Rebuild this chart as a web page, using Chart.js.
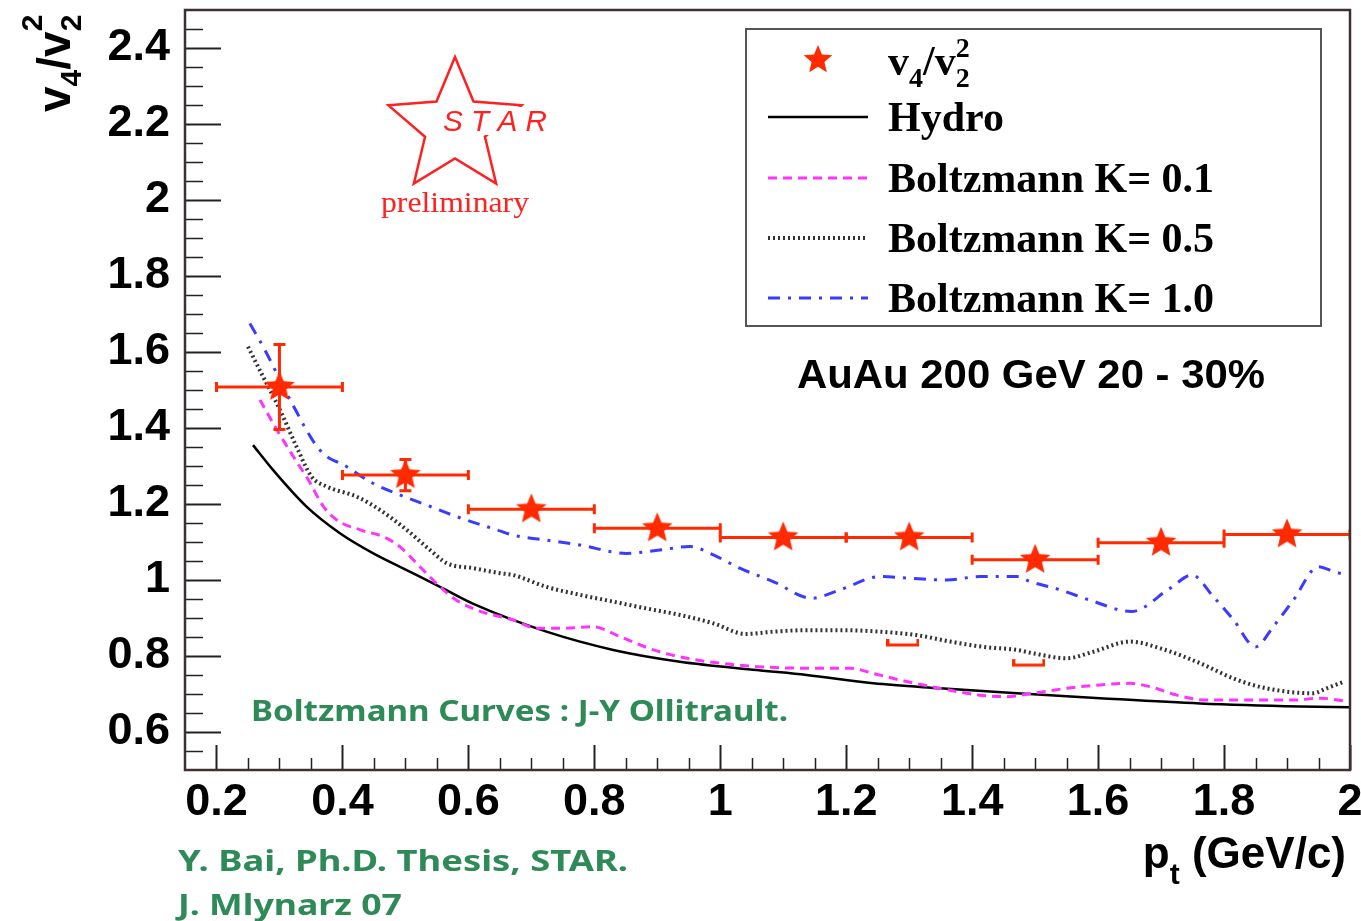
<!DOCTYPE html>
<html>
<head>
<meta charset="utf-8">
<script src="https://cdn.jsdelivr.net/npm/chart.js@4.4.1/dist/chart.umd.min.js"></script>
<style>
  html, body { margin: 0; padding: 0; background: #fff; }
  #wrap { width: 1361px; height: 921px; }
</style>
</head>
<body>
<div id="wrap"><canvas id="myChart" width="1361" height="921"></canvas></div>
<script>
// measured v4/v2^2 points, bins of 0.2 GeV/c
const ptCenters = [0.3, 0.5, 0.7, 0.9, 1.1, 1.3, 1.5, 1.7, 1.9];
const ptHalfWidth = [0.1, 0.1, 0.1, 0.1, 0.1, 0.1, 0.1, 0.1, 0.1];
const ratio = [1.508, 1.276, 1.186, 1.136, 1.112, 1.112, 1.053, 1.098, 1.120];
const ratioErr = [0.112, 0.041, 0.01, 0.01, 0.01, 0.01, 0.01, 0.01, 0.01];

// lower edges of the systematic brackets
const sysX = [1.29, 1.49];
const sysLow = [0.829, 0.776];

// Hydro
const hydroX = [0.258, 0.29, 0.343, 0.396, 0.449, 0.502, 0.555, 0.608, 0.724, 0.83, 0.936, 1.058, 1.137, 1.243, 1.349, 1.471, 1.603, 1.762, 1.921, 2.0];
const hydroY = [1.355, 1.289, 1.193, 1.123, 1.07, 1.026, 0.982, 0.937, 0.864, 0.816, 0.785, 0.763, 0.75, 0.728, 0.715, 0.702, 0.689, 0.675, 0.667, 0.665];

// Boltzmann K = 0.1
const k01X = [0.269, 0.296, 0.322, 0.346, 0.37, 0.391, 0.428, 0.465, 0.491, 0.523, 0.555, 0.581, 0.618, 0.671, 0.709, 0.751, 0.798, 0.841, 0.894, 0.947, 1.0, 1.058, 1.137, 1.206, 1.243, 1.285, 1.349, 1.412, 1.455, 1.497, 1.55, 1.603, 1.651, 1.683, 1.725, 1.772, 1.842, 1.91, 1.953, 1.997];
const k01Y = [1.474, 1.395, 1.325, 1.263, 1.193, 1.158, 1.132, 1.114, 1.088, 1.035, 0.982, 0.947, 0.918, 0.895, 0.873, 0.873, 0.877, 0.851, 0.816, 0.794, 0.781, 0.772, 0.768, 0.768, 0.754, 0.737, 0.715, 0.697, 0.693, 0.702, 0.715, 0.724, 0.728, 0.719, 0.697, 0.684, 0.684, 0.684, 0.689, 0.68];

// Boltzmann K = 0.5
const k05X = [0.25, 0.274, 0.301, 0.327, 0.351, 0.375, 0.423, 0.46, 0.502, 0.539, 0.566, 0.608, 0.65, 0.671, 0.724, 0.777, 0.83, 0.883, 0.936, 0.989, 1.04, 1.084, 1.137, 1.19, 1.254, 1.312, 1.365, 1.418, 1.471, 1.497, 1.55, 1.592, 1.651, 1.699, 1.762, 1.815, 1.867, 1.941, 1.963, 1.99];
const k05Y = [1.614, 1.535, 1.447, 1.351, 1.272, 1.246, 1.219, 1.184, 1.132, 1.079, 1.044, 1.031, 1.018, 1.013, 0.982, 0.961, 0.943, 0.925, 0.908, 0.886, 0.858, 0.864, 0.868, 0.868, 0.864, 0.855, 0.838, 0.824, 0.816, 0.807, 0.794, 0.811, 0.838, 0.82, 0.781, 0.741, 0.715, 0.702, 0.715, 0.732];

// Boltzmann K = 1.0
const k10X = [0.253, 0.277, 0.317, 0.364, 0.407, 0.449, 0.491, 0.534, 0.581, 0.645, 0.671, 0.724, 0.777, 0.851, 0.904, 0.952, 0.989, 1.031, 1.084, 1.145, 1.19, 1.254, 1.307, 1.36, 1.412, 1.471, 1.492, 1.54, 1.587, 1.653, 1.714, 1.749, 1.783, 1.815, 1.85, 1.878, 1.91, 1.95, 1.974, 1.997];
const k10Y = [1.675, 1.605, 1.474, 1.342, 1.298, 1.254, 1.224, 1.197, 1.167, 1.132, 1.118, 1.105, 1.092, 1.07, 1.079, 1.088, 1.066, 1.031, 0.996, 0.952, 0.974, 1.009, 1.004, 1.0, 1.009, 1.009, 0.996, 0.974, 0.947, 0.917, 0.978, 1.013, 0.956, 0.895, 0.824, 0.877, 0.947, 1.035, 1.022, 1.013];

const xTicks = [0.2, 0.4, 0.6, 0.8, 1.0, 1.2, 1.4, 1.6, 1.8, 2.0];
const yTicks = [0.6, 0.8, 1.0, 1.2, 1.4, 1.6, 1.8, 2.0, 2.2, 2.4];

const starRed = '#ff2a00';
const green = '#2e8b57';
const tickFont = { family: 'Liberation Sans', weight: 'bold', size: 45 };

const toXY = (xs, ys) => xs.map((x, i) => ({ x: x, y: ys[i] }));
const fmt = v => parseFloat(v.toFixed(2)).toString();

function starPath(g, cx, cy, R) {
    const r = R * 0.45;
    g.beginPath();
    for (let i = 0; i < 10; i++) {
        const rad = i % 2 == 0 ? R : r;
        const a = -Math.PI / 2 + i * Math.PI / 5;
        g.lineTo(cx + rad * Math.cos(a), cy + rad * Math.sin(a));
    }
    g.closePath();
}

function makeStar(R, color) {
    const c = document.createElement('canvas');
    c.width = c.height = Math.ceil(2 * R + 2);
    const g = c.getContext('2d');
    starPath(g, c.width / 2, c.height / 2, R);
    g.fillStyle = color;
    g.fill();
    return c;
}

function makeBracket(w, h, color) {
    const c = document.createElement('canvas');
    c.width = w; c.height = h * 2;
    const g = c.getContext('2d');
    g.strokeStyle = color;
    g.lineWidth = 3;
    g.beginPath();
    g.moveTo(1.5, 2); g.lineTo(1.5, h); g.lineTo(w - 1.5, h); g.lineTo(w - 1.5, 2);
    g.stroke();
    return c;
}

const starImg = makeStar(16, starRed);
const bracketImg = makeBracket(33, 8, starRed);

// text squeezed / stretched to a given width
function fitText(ctx, text, x, y, font, width, align) {
    ctx.font = font;
    const w = ctx.measureText(text).width;
    ctx.save();
    ctx.translate(align == 'right' ? x - width : x, y);
    ctx.scale(width / w, 1);
    ctx.textAlign = 'left';
    ctx.fillText(text, 0, 0);
    ctx.restore();
}

const errorBars = {
    id: 'errorBars',
    beforeDatasetDraw(chart, args) {
        if (args.index !== 0) return;
        const xs = chart.scales.x, ys = chart.scales.y, ctx = chart.ctx;
        const a = chart.chartArea;
        ctx.save();
        ctx.beginPath();
        ctx.rect(a.left, a.top, a.right - a.left, a.bottom - a.top);
        ctx.clip();
        ctx.strokeStyle = starRed;
        ctx.lineWidth = 3;
        ptCenters.forEach((x, i) => {
            const p0 = xs.getPixelForValue(x - ptHalfWidth[i]);
            const p1 = xs.getPixelForValue(x + ptHalfWidth[i]);
            const pc = xs.getPixelForValue(x);
            const py = ys.getPixelForValue(ratio[i]);
            const pt = ys.getPixelForValue(ratio[i] + ratioErr[i]);
            const pb = ys.getPixelForValue(ratio[i] - ratioErr[i]);
            ctx.beginPath();
            ctx.moveTo(p0, py); ctx.lineTo(p1, py);
            ctx.moveTo(p0, py - 5); ctx.lineTo(p0, py + 5);
            ctx.moveTo(p1, py - 5); ctx.lineTo(p1, py + 5);
            if (pb - pt > 30) {
                ctx.moveTo(pc, pt); ctx.lineTo(pc, pb);
                ctx.moveTo(pc - 6, pt); ctx.lineTo(pc + 6, pt);
                ctx.moveTo(pc - 6, pb); ctx.lineTo(pc + 6, pb);
            }
            ctx.stroke();
        });
        ctx.restore();
    }
};

const frameAndTicks = {
    id: 'frameAndTicks',
    afterDatasetsDraw(chart) {
        const ctx = chart.ctx, a = chart.chartArea;
        const xs = chart.scales.x, ys = chart.scales.y;
        ctx.save();
        ctx.strokeStyle = '#222';
        // y ticks every 0.05, major every 0.2
        for (let k = 11; k < 50; k++) {
            const major = k % 4 == 0;
            const py = Math.round(ys.getPixelForValue(k * 0.05)) + 0.5;
            ctx.lineWidth = major ? 2 : 1.5;
            ctx.beginPath();
            ctx.moveTo(a.left, py); ctx.lineTo(a.left + (major ? 36 : 18), py);
            ctx.stroke();
        }
        for (let k = 4; k <= 40; k++) {
            const major = k % 4 == 0;
            const px = Math.round(xs.getPixelForValue(k * 0.05)) + 0.5;
            ctx.lineWidth = major ? 2 : 1.5;
            ctx.beginPath();
            ctx.moveTo(px, a.bottom); ctx.lineTo(px, a.bottom - (major ? 25 : 12));
            ctx.stroke();
        }
        ctx.strokeStyle = '#3d3030';
        ctx.lineWidth = 2.5;
        ctx.strokeRect(a.left, a.top, a.right - a.left, a.bottom - a.top);
        ctx.restore();
    }
};

const decorations = {
    id: 'decorations',
    afterDraw(chart) {
        const ctx = chart.ctx;
        const ds = chart.data.datasets;
        ctx.save();

        // legend box
        ctx.fillStyle = '#fff';
        ctx.fillRect(746, 29, 575, 297);
        ctx.strokeStyle = '#555';
        ctx.lineWidth = 2;
        ctx.strokeRect(746, 29, 575, 297);

        ctx.drawImage(makeStar(15, starRed), 818 - 16, 60 - 16);
        const rows = [[2, 117], [3, 178], [4, 238], [5, 298]];
        rows.forEach(r => {
            const d = ds[r[0]];
            ctx.strokeStyle = d.borderColor;
            ctx.lineWidth = d.borderWidth;
            ctx.setLineDash(d.borderDash || []);
            ctx.beginPath();
            ctx.moveTo(768, r[1]); ctx.lineTo(868, r[1]);
            ctx.stroke();
        });
        ctx.setLineDash([]);

        ctx.fillStyle = '#000';
        ctx.textBaseline = 'alphabetic';
        const serif = 'bold 42px "Liberation Serif"';
        const serifSmall = 'bold 28px "Liberation Serif"';
        ctx.font = serif;
        let x = 888;
        ctx.fillText('v', x, 75); x += ctx.measureText('v').width;
        ctx.font = serifSmall;
        ctx.fillText('4', x, 87); x += ctx.measureText('4').width;
        ctx.font = serif;
        ctx.fillText('/v', x, 75); x += ctx.measureText('/v').width;
        ctx.font = serifSmall;
        ctx.fillText('2', x, 87);
        ctx.fillText('2', x, 57);
        ctx.font = serif;
        ctx.fillText('Hydro', 888, 131);
        ctx.fillText('Boltzmann K= 0.1', 888, 192);
        ctx.fillText('Boltzmann K= 0.5', 888, 252);
        ctx.fillText('Boltzmann K= 1.0', 888, 312);

        // system label
        fitText(ctx, 'AuAu 200 GeV 20 - 30%', 797, 388, 'bold 40px "Liberation Sans"', 468);

        // STAR preliminary logo
        ctx.strokeStyle = '#ff2020';
        ctx.lineWidth = 2.5;
        ctx.lineJoin = 'miter';
        starPath(ctx, 455, 127, 70);
        ctx.stroke();
        ctx.fillStyle = '#fff';
        ctx.fillRect(441, 107, 108, 28);
        ctx.fillStyle = '#ff2020';
        fitText(ctx, 'S T A R', 443, 131, 'italic 29px "Liberation Sans"', 104);
        fitText(ctx, 'preliminary', 381, 212, '30px "Liberation Serif"', 148);

        // credits
        ctx.fillStyle = green;
        const comic = 'bold 28px "Comic Sans MS", "Noto Sans", sans-serif';
        fitText(ctx, 'Boltzmann Curves : J-Y Ollitrault.', 251, 721, comic, 537);
        fitText(ctx, 'Y. Bai, Ph.D. Thesis, STAR.', 178, 871, comic, 450);
        fitText(ctx, 'J. Mlynarz 07', 178, 915, comic, 224);

        // x axis title
        ctx.fillStyle = '#000';
        const big = 'bold 44px "Liberation Sans"';
        const sub = 'bold 30px "Liberation Sans"';
        ctx.font = big;
        const wP = ctx.measureText('p').width;
        const wRest = ctx.measureText(' (GeV/c)').width;
        ctx.font = sub;
        const wT = ctx.measureText('t').width;
        let sx = 1346 - (wP + wT + wRest);
        ctx.font = big;
        ctx.fillText('p', sx, 868); sx += wP;
        ctx.font = sub;
        ctx.fillText('t', sx, 884); sx += wT;
        ctx.font = big;
        ctx.fillText(' (GeV/c)', sx, 868);

        // y axis title, rotated
        ctx.save();
        ctx.translate(70, 112);
        ctx.rotate(-Math.PI / 2);
        let tx = 0;
        ctx.font = 'bold 46px "Liberation Sans"';
        ctx.fillText('v', tx, 0); tx += ctx.measureText('v').width;
        ctx.font = sub;
        ctx.fillText('4', tx, 11); tx += ctx.measureText('4').width;
        ctx.font = 'bold 46px "Liberation Sans"';
        ctx.fillText('/v', tx, 0); tx += ctx.measureText('/v').width;
        ctx.font = sub;
        ctx.fillText('2', tx, 11);
        ctx.fillText('2', tx, -28);
        ctx.restore();

        ctx.restore();
    }
};

const ctx = document.getElementById('myChart');

new Chart(ctx, {
    type: 'scatter',
    data: {
        datasets: [
            {
                label: 'v4/v2^2',
                data: toXY(ptCenters, ratio),
                pointStyle: starImg,
                pointRadius: 16,
                showLine: false,
                order: 0
            },
            {
                label: 'sys',
                data: toXY(sysX, sysLow),
                pointStyle: bracketImg,
                pointRadius: 16,
                showLine: false,
                order: 1
            },
            {
                label: 'Hydro',
                data: toXY(hydroX, hydroY),
                showLine: true,
                borderColor: '#000',
                borderWidth: 2.5,
                pointRadius: 0,
                cubicInterpolationMode: 'monotone',
                order: 5
            },
            {
                label: 'Boltzmann K= 0.1',
                data: toXY(k01X, k01Y),
                showLine: true,
                borderColor: '#ff33ff',
                borderWidth: 3,
                borderDash: [9, 6],
                pointRadius: 0,
                cubicInterpolationMode: 'monotone',
                order: 4
            },
            {
                label: 'Boltzmann K= 0.5',
                data: toXY(k05X, k05Y),
                showLine: true,
                borderColor: '#333',
                borderWidth: 4,
                borderDash: [2, 3],
                pointRadius: 0,
                cubicInterpolationMode: 'monotone',
                order: 3
            },
            {
                label: 'Boltzmann K= 1.0',
                data: toXY(k10X, k10Y),
                showLine: true,
                borderColor: '#3b3bff',
                borderWidth: 3,
                borderDash: [12, 8, 3, 8],
                pointRadius: 0,
                cubicInterpolationMode: 'monotone',
                order: 2
            }
        ]
    },
    options: {
        responsive: false,
        animation: false,
        devicePixelRatio: 1,
        layout: { autoPadding: false, padding: { top: 10, right: 11, left: 0, bottom: 0 } },
        plugins: {
            legend: { display: false },
            tooltip: { enabled: false }
        },
        scales: {
            x: {
                type: 'linear',
                min: 0.15,
                max: 2.0,
                grid: { display: false, drawTicks: false },
                border: { display: false },
                afterBuildTicks: s => { s.ticks = xTicks.map(v => ({ value: v })); },
                afterFit: s => { s.height = 151; s.paddingLeft = 0; s.paddingRight = 0; },
                ticks: {
                    font: tickFont,
                    color: '#000',
                    padding: 6,
                    maxRotation: 0,
                    autoSkip: false,
                    callback: v => fmt(v)
                }
            },
            y: {
                type: 'linear',
                min: 0.5,
                max: 2.5,
                grid: { display: false, drawTicks: false },
                border: { display: false },
                afterBuildTicks: s => { s.ticks = yTicks.map(v => ({ value: v })); },
                afterFit: s => { s.width = 185; s.paddingTop = 0; s.paddingBottom = 0; },
                ticks: {
                    font: tickFont,
                    color: '#000',
                    padding: 15,
                    autoSkip: false,
                    callback: v => fmt(v)
                }
            }
        }
    },
    plugins: [errorBars, frameAndTicks, decorations]
});
</script>
</body>
</html>
